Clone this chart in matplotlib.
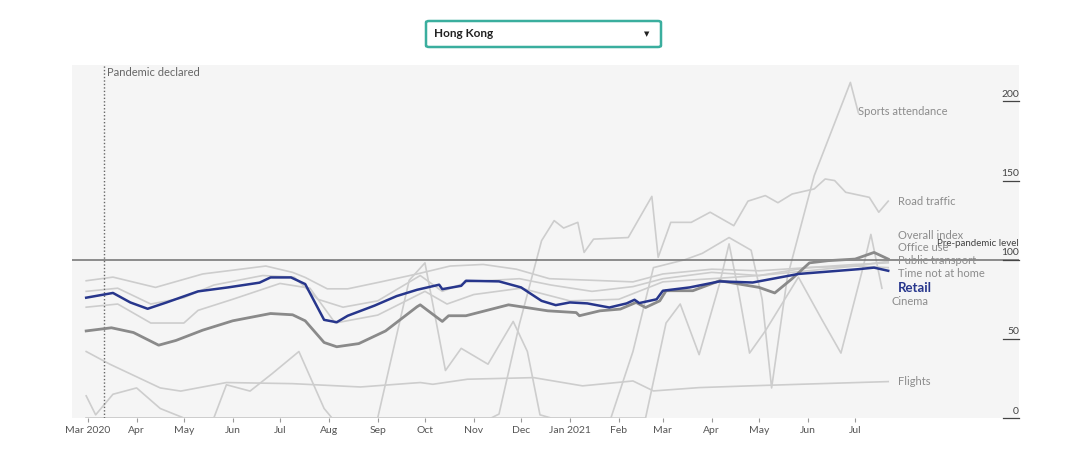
import matplotlib
matplotlib.use('Agg')
import matplotlib.pyplot as plt
import matplotlib.transforms as mtransforms
from matplotlib.patches import FancyBboxPatch
import pandas as pd

plt.rcParams['font.family'] = ['Lato', 'DejaVu Sans']

# ---------------- data ----------------
retail_dates = ['2020-02-29', '2020-03-17', '2020-03-28', '2020-04-08', '2020-04-20', '2020-05-10',
                '2020-05-29', '2020-06-18', '2020-06-25', '2020-07-08', '2020-07-17', '2020-07-29',
                '2020-08-06', '2020-08-13', '2020-08-30', '2020-09-13', '2020-09-26', '2020-10-10',
                '2020-10-12', '2020-10-24', '2020-10-27', '2020-11-17', '2020-12-01', '2020-12-14',
                '2020-12-23', '2021-01-01', '2021-01-12', '2021-01-26', '2021-02-06', '2021-02-11',
                '2021-02-14', '2021-02-25', '2021-03-01', '2021-03-18', '2021-04-06', '2021-04-27',
                '2021-05-26', '2021-06-14', '2021-07-03', '2021-07-13', '2021-07-22']
retail_vals = [76, 79, 73, 69, 73, 80, 82.5, 85.5, 88.8, 88.8, 84.6, 62, 60.5, 64.6, 71, 77, 81, 84.2,
               81.4, 83.5, 86.7, 86.3, 82.5, 74, 71.3, 73, 72.4, 69.8, 72.4, 74.7, 72.6, 75, 80.4,
               82.5, 86.3, 85.6, 91, 92.5, 94, 95, 93]

overall_dates = ['2020-02-29', '2020-03-16', '2020-03-30', '2020-04-15', '2020-04-26', '2020-05-13',
                 '2020-06-01', '2020-06-25', '2020-07-09', '2020-07-17', '2020-07-29', '2020-08-06',
                 '2020-08-20', '2020-09-06', '2020-09-26', '2020-09-28', '2020-10-12', '2020-10-16',
                 '2020-10-27', '2020-11-23', '2020-12-18', '2021-01-05', '2021-01-07', '2021-01-20',
                 '2021-02-02', '2021-02-12', '2021-02-18', '2021-02-27', '2021-03-03', '2021-03-20',
                 '2021-04-06', '2021-05-01', '2021-05-11', '2021-05-22', '2021-06-02', '2021-06-14',
                 '2021-07-01', '2021-07-13', '2021-07-22']
overall_vals = [55, 57, 54, 46, 49, 55.5, 61.4, 66, 65.2, 61.4, 47.7, 45, 47, 55, 70.3, 71.5, 61, 64.6,
                64.6, 71.5, 67.7, 66.6, 64.6, 67.7, 68.8, 73, 69.8, 74, 80.4, 80.4, 86.7, 82.5, 79,
                88, 98, 99.4, 100.4, 104.6, 100.4]

flights_dates = ['2020-02-29', '2020-03-15', '2020-04-16', '2020-04-29', '2020-05-28', '2020-07-09',
                 '2020-08-21', '2020-09-28', '2020-10-06', '2020-10-28', '2020-12-09', '2021-01-09',
                 '2021-02-10', '2021-02-23', '2021-03-24', '2021-04-25', '2021-05-27', '2021-07-22']
flights_vals = [42, 34, 19, 17, 22.4, 21.7, 19.6, 22.4, 21.3, 24.5, 25.5, 20.3, 23.4, 17.1, 19.2, 20.3,
                21.3, 23]

time_dates = ['2020-02-29', '2020-03-17', '2020-04-13', '2020-05-13', '2020-06-22', '2020-07-09',
              '2020-07-17', '2020-07-31', '2020-08-13', '2020-09-03', '2020-09-26', '2020-10-17',
              '2020-11-07', '2020-11-28', '2020-12-19', '2021-01-15', '2021-02-10', '2021-03-01',
              '2021-04-01', '2021-05-01', '2021-06-01', '2021-07-01', '2021-07-22']
time_vals = [86.7, 89, 82.5, 91, 96, 92, 88.8, 81.6, 81.6, 86, 91, 96, 97, 94, 88, 87, 86, 91,
             94, 93, 95, 96, 95]

office_dates = ['2020-02-29', '2020-03-20', '2020-04-10', '2020-05-01', '2020-05-20', '2020-06-20',
                '2020-07-10', '2020-07-25', '2020-08-10', '2020-09-01', '2020-09-28', '2020-10-12',
                '2020-10-28', '2020-11-30', '2020-12-20', '2021-01-15', '2021-02-10', '2021-03-01',
                '2021-04-01', '2021-05-01', '2021-06-01', '2021-07-01', '2021-07-22']
office_vals = [80, 82, 72, 76, 84, 90, 89, 75, 70, 74, 90, 80, 86, 88, 84, 80, 83, 88, 92, 90, 95, 97, 98]

transport_dates = ['2020-02-29', '2020-03-20', '2020-04-10', '2020-05-01', '2020-05-10', '2020-06-01',
                   '2020-07-01', '2020-07-20', '2020-08-05', '2020-09-01', '2020-10-01', '2020-10-15',
                   '2020-11-01', '2020-12-01', '2021-01-01', '2021-02-01', '2021-03-01', '2021-04-01',
                   '2021-05-01', '2021-06-01', '2021-07-01', '2021-07-22']
transport_vals = [70, 72, 60, 60, 68, 75, 85, 82, 60, 65, 80, 72, 78, 82, 74, 75, 86, 88, 90, 93, 96, 99]

cinema_dates = ['2020-02-29', '2020-03-06', '2020-03-17', '2020-04-01', '2020-04-16', '2020-05-01',
                '2020-05-20', '2020-05-28', '2020-06-12', '2020-06-26', '2020-07-13', '2020-07-29',
                '2020-08-03', '2020-09-01', '2020-09-21', '2020-10-01', '2020-10-14', '2020-10-24',
                '2020-11-10', '2020-11-26', '2020-12-05', '2020-12-13', '2020-12-20', '2021-02-18',
                '2021-03-03', '2021-03-12', '2021-03-24', '2021-04-06', '2021-04-12', '2021-04-18',
                '2021-04-25', '2021-05-05', '2021-05-26', '2021-06-10', '2021-06-22', '2021-07-06',
                '2021-07-11', '2021-07-18']
cinema_vals = [14, 2, 15, 19, 6, 0, 0, 21, 17, 28, 42, 6, 0, 0, 87, 98, 30, 44, 34, 61, 42, 2, 0, 0,
               60, 72, 40, 85, 110, 80, 41, 55, 89, 62, 41, 95, 116, 82]

road_dates = ['2020-02-29', '2020-11-12', '2020-11-17', '2020-11-30', '2020-12-14', '2020-12-22',
              '2020-12-28', '2021-01-06', '2021-01-10', '2021-01-16', '2021-02-07', '2021-02-22',
              '2021-02-26', '2021-03-06', '2021-03-19', '2021-03-31', '2021-04-15', '2021-04-24',
              '2021-05-05', '2021-05-13', '2021-05-22', '2021-06-05', '2021-06-12', '2021-06-18',
              '2021-06-25', '2021-07-10', '2021-07-16', '2021-07-22']
road_vals = [0, 0, 2.5, 59.5, 112, 124.7, 120, 123.6, 104.6, 113, 114, 140, 101.5, 123.6, 123.6,
             130, 121.5, 137, 140.5, 136, 141.5, 144.7, 151, 150, 142.6, 139.4, 130, 137]

sports_dates = ['2020-02-29', '2021-01-27', '2021-02-10', '2021-02-23', '2021-03-15', '2021-03-26',
                '2021-04-12', '2021-04-26', '2021-05-03', '2021-05-09', '2021-05-19', '2021-06-05',
                '2021-06-28', '2021-07-03']
sports_vals = [0, 0, 42, 95, 100, 104, 114, 106, 75, 19, 89, 153, 212, 193]

month_ticks = pd.date_range('2020-03-01', '2021-07-01', freq='MS')
month_labels = ['Mar 2020', 'Apr', 'May', 'Jun', 'Jul', 'Aug', 'Sep', 'Oct', 'Nov', 'Dec',
                'Jan 2021', 'Feb', 'Mar', 'Apr', 'May', 'Jun', 'Jul']
y_ticks = [0, 50, 100, 150, 200]

# ---------------- figure ----------------
W, H = 1080, 458
fig = plt.figure(figsize=(W / 100, H / 100), dpi=100)
ax = fig.add_axes([72 / W, 1 - 418 / H, (1019 - 72) / W, (418 - 65) / H])
ax.set_facecolor('#f5f5f5')
for s in ax.spines.values():
    s.set_visible(False)
ax.set_xlim(pd.Timestamp('2020-02-20'), pd.Timestamp('2021-10-13'))
ax.set_ylim(0, 223)

light = '#cdcdcd'
light_series = [
    (flights_dates, flights_vals), (time_dates, time_vals), (office_dates, office_vals),
    (transport_dates, transport_vals), (cinema_dates, cinema_vals), (road_dates, road_vals),
    (sports_dates, sports_vals)]
for d, v in light_series:
    ax.plot(pd.to_datetime(d), v, color=light, lw=1.2, zorder=2, solid_joinstyle='round')

ax.axhline(100, color='#7a7a7a', lw=1.2, zorder=3)
ax.plot(pd.to_datetime(overall_dates), overall_vals, color='#8a8a8a', lw=2.0, zorder=4,
        solid_joinstyle='round')
ax.plot(pd.to_datetime(retail_dates), retail_vals, color='#27368c', lw=1.8, zorder=5,
        solid_joinstyle='round')

# pandemic declared
pd_day = pd.Timestamp('2020-03-11')
ax.axvline(pd_day, color='#666666', lw=1.0, ls=(0, (1, 1.5)), zorder=3)
ax.text(pd.Timestamp('2020-03-13'), 218, 'Pandemic declared', fontsize=8, color='#666666',
        va='center', ha='left')

# x ticks
ax.set_xticks(month_ticks)
ax.set_xticklabels(month_labels)
ax.tick_params(axis='x', length=3, width=0.8, color='#999999', labelsize=7.5,
               labelcolor='#555555', pad=3)
ax.set_yticks([])

# right-side y tick labels with underline
trans = mtransforms.blended_transform_factory(ax.transAxes, ax.transData)
x_end = 1.0
x_start = 1 - 16 / (1019 - 72)
for t in y_ticks:
    ax.plot([x_start, x_end], [t, t], transform=trans, color='#444444', lw=0.9, clip_on=False, zorder=6)
    ax.text(x_end, t + 1.5, str(t), transform=trans, ha='right', va='bottom', fontsize=7.5,
            color='#444444', zorder=6)
ax.text(x_end, 107.5, 'Pre-pandemic level', transform=trans, ha='right', va='bottom',
        fontsize=7, color='#444444', zorder=6)

# series labels
lab_x = pd.Timestamp('2021-07-28')
grey_txt = '#8c8c8c'
labels = [
    ('Sports attendance', pd.Timestamp('2021-07-03'), 193.7, grey_txt, 'normal', 8),
    ('Road traffic', lab_x, 136.7, grey_txt, 'normal', 8),
    ('Overall index', lab_x, 115, grey_txt, 'normal', 8),
    ('Office use', lab_x, 107.6, grey_txt, 'normal', 8),
    ('Public transport', lab_x, 99.4, grey_txt, 'normal', 8),
    ('Time not at home', lab_x, 91, grey_txt, 'normal', 8),
    ('Retail', lab_x, 82.3, '#27368c', 'bold', 9.5),
    ('Cinema', pd.Timestamp('2021-07-24'), 73.4, grey_txt, 'normal', 8),
    ('Flights', lab_x, 22.8, grey_txt, 'normal', 8),
]
for txt, x, y, c, w, fs in labels:
    ax.text(x, y, txt, color=c, fontweight=w, fontsize=fs, va='center', ha='left', zorder=6)

# dropdown
box = FancyBboxPatch((426 / W, 1 - 47 / H), (661 - 426) / W, 26 / H,
                     boxstyle='round,pad=0,rounding_size=0.003', transform=fig.transFigure,
                     facecolor='white', edgecolor='#3aae9e', lw=1.8)
fig.patches.append(box)
fig.text(434 / W, 1 - 33.5 / H, 'Hong Kong', fontsize=8.5, fontweight='bold', color='#222222',
         va='center', ha='left')
fig.text(647 / W, 1 - 34 / H, '\u25BC', fontsize=5, color='#222222', va='center', ha='center')

fig.savefig('out.png', dpi=100, facecolor='white')
